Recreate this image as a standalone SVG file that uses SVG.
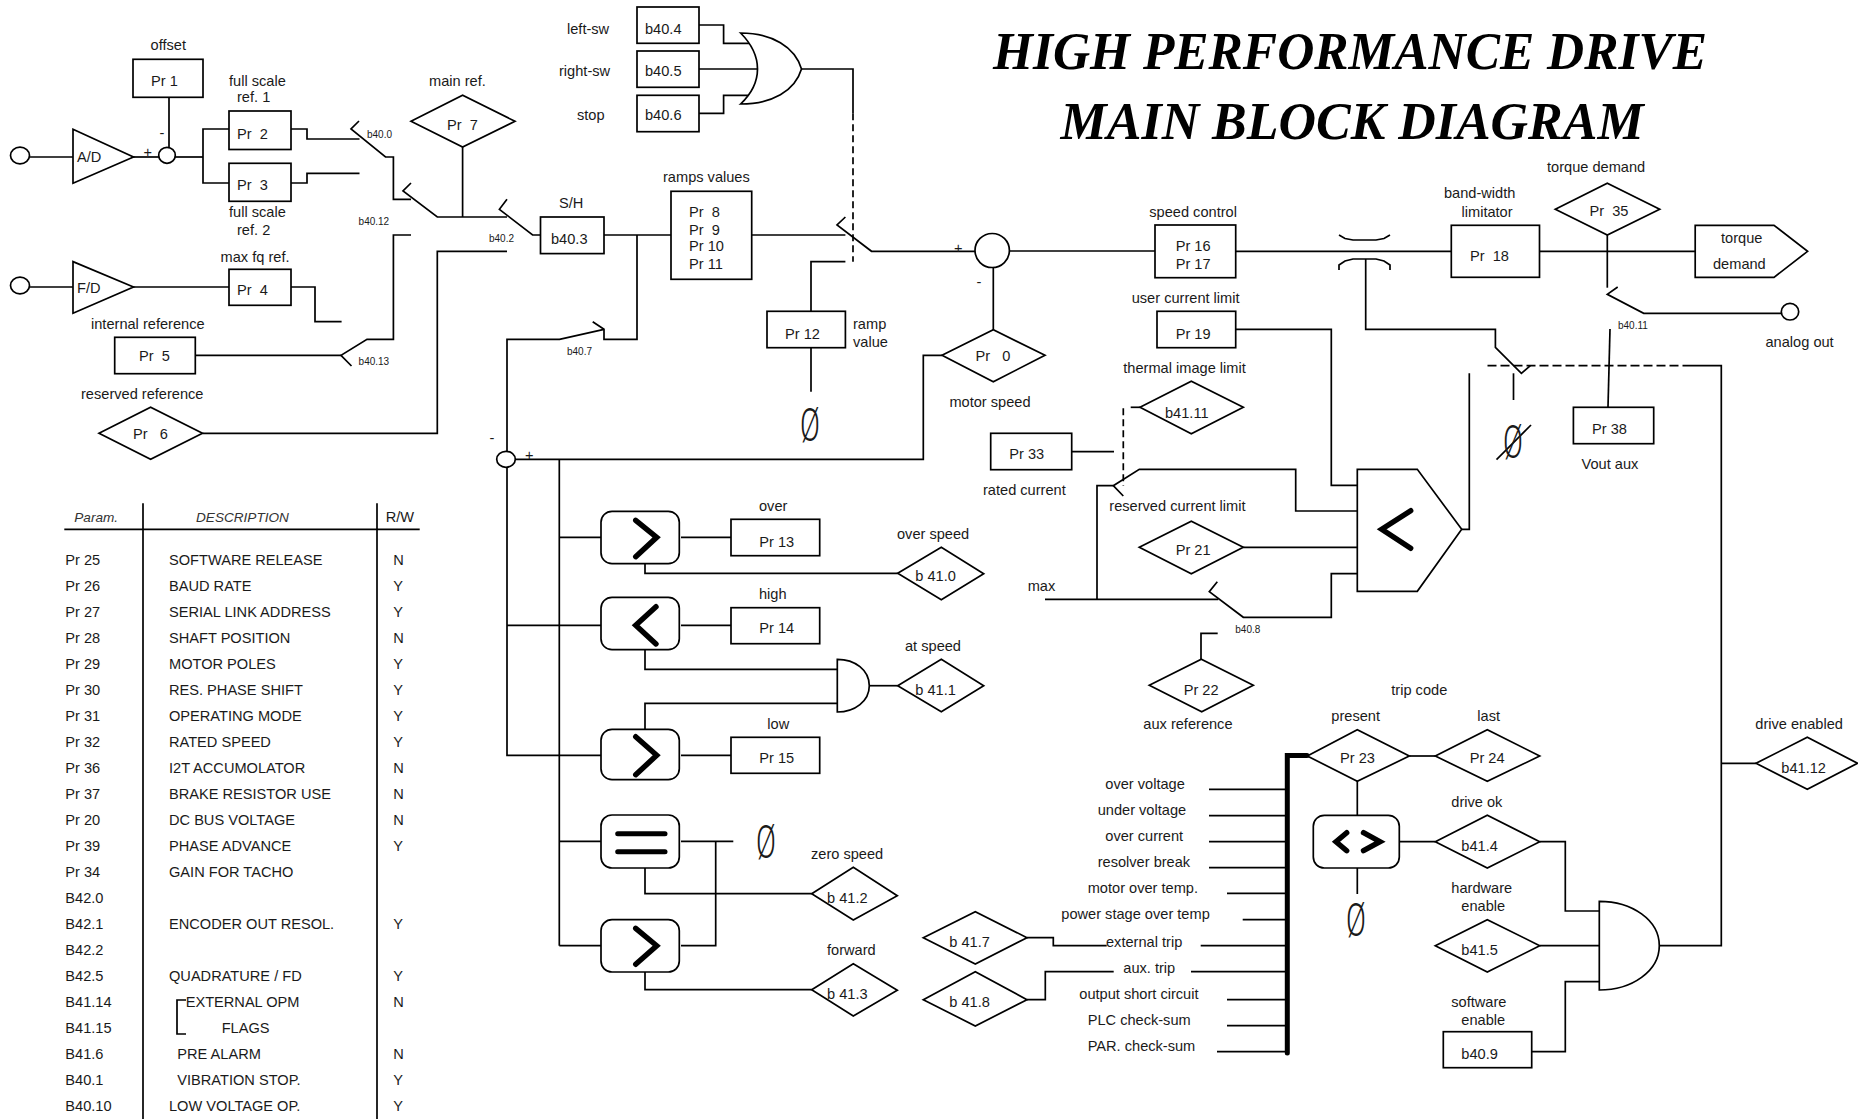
<svg xmlns="http://www.w3.org/2000/svg" width="1858" height="1119" viewBox="0 0 1858 1119">
<style>
text{font-family:"Liberation Sans",Arial,sans-serif;font-size:14.6px;fill:#1a1a1a}
text:not(.z):not(.t){transform:translateY(-0.7px)}
.s{font-size:10px}
.h{font-size:13.6px;font-style:italic;fill:#333}
.t{font-family:"Liberation Serif","Times New Roman",serif;font-size:52px;font-weight:bold;font-style:italic;fill:#000}
.z{font-family:Roboto,sans-serif;font-weight:300;font-size:46px;text-anchor:middle}
rect,polygon,ellipse,.g{fill:#fff;stroke:#000;stroke-width:1.7}
polyline,line,.w{fill:none;stroke:#000;stroke-width:1.7}
.d{stroke-dasharray:7 4}
.e{stroke-dasharray:9 4}
.c{fill:none;stroke:#000;stroke-width:5.4;stroke-linecap:round;stroke-linejoin:miter}
.b{fill:none;stroke:#000;stroke-width:5;stroke-linecap:round}
</style>
<g id="connectors">
<line x1="29" y1="157" x2="73" y2="157"/>
<line x1="133" y1="157" x2="159" y2="157"/>
<line x1="169" y1="95" x2="169" y2="148"/>
<polyline points="175,157 203,157"/>
<polyline points="229,129 203,129 203,183 229,183"/>
<polyline points="289,129 307,129 307,139 359.5,139"/>
<polyline points="289,183 307,183 307,173.3 359.5,173.3"/>
<polyline points="359,121 351,129 385.5,157 393.4,157 393.4,199.3 411,199.3"/>
<polyline points="411,183 403,191 437.3,217 507,217"/>
<polyline points="507,199.3 499.4,209.3 532.6,235 540.5,235"/>
<line x1="462.6" y1="147" x2="462.6" y2="217"/>
<line x1="29" y1="287" x2="73" y2="287"/>
<line x1="133" y1="287" x2="229" y2="287"/>
<polyline points="289,287 315,287 315,321.7 341.6,321.7"/>
<line x1="195" y1="355.3" x2="341" y2="355.3"/>
<polyline points="351.5,366 341,355.3 367,339.3 393.4,339.3 393.4,235 411,235"/>
<polyline points="507,251.3 437.3,251.3 437.3,433.3 202.5,433.3"/>
<polyline points="507,451 507,339.3 559.5,339.3 604,329.3"/>
<polyline points="592.7,321.7 604,329.3 604,339.3 637,339.3 637,235"/>
<line x1="604" y1="235" x2="671" y2="235"/>
<polyline points="697,25 723.6,25 723.6,43.3 756,43.3"/>
<line x1="697" y1="69" x2="760" y2="69"/>
<polyline points="697,113.3 723.6,113.3 723.6,95.3 755,95.3"/>
<polyline points="801.5,69 853,69 853,113.3"/>
<line class="d" x1="853" y1="113.3" x2="853" y2="261.7"/>
<line x1="751" y1="235" x2="845.4" y2="235"/>
<polyline points="845.4,217 837,225 871.5,251.3 975,251.3"/>
<polyline points="845.4,261.7 811,261.7 811,311"/>
<line x1="811" y1="347.7" x2="811" y2="391.7"/>
<line x1="993.3" y1="267" x2="993.3" y2="330"/>
<polyline points="942,355.3 923.3,355.3 923.3,459.3 515,459.3"/>
<line x1="1009.5" y1="251" x2="1155" y2="251"/>
<line x1="1235.7" y1="251.3" x2="1451.3" y2="251.3"/>
<path class="w" d="M1339,235 L1345,238.5 L1353,240 L1376,240 L1384,238.5 L1390,235"/>
<path class="w" d="M1339,270 L1339,265 L1345,261 L1353,259 L1376,259 L1384,261 L1390,265 L1390,270"/>
<polyline points="1365.7,259 1365.7,329.3 1495.4,329.3 1495.4,347.3 1521.4,373.3 1530.4,365.7"/>
<line class="e" x1="1487.5" y1="365.7" x2="1686" y2="365.7"/>
<polyline points="1686,365.7 1721.3,365.7 1721.3,945.7 1659.3,945.7"/>
<line x1="1513.5" y1="373.3" x2="1513.5" y2="400"/>
<line x1="1539.5" y1="251.3" x2="1695.2" y2="251.3"/>
<line x1="1607.3" y1="235" x2="1607.3" y2="287.7"/>
<polyline points="1617.7,287 1607.3,294.3 1643.7,313.3 1782,313.3"/>
<line x1="1610" y1="329" x2="1608" y2="407"/>
<polyline points="1068.7,451.7 1114,451.7"/>
<polyline points="1234.7,329.3 1331.3,329.3 1331.3,485.3 1357.3,485.3"/>
<line x1="1130.7" y1="407.3" x2="1140" y2="407.3"/>
<line class="d" x1="1123.3" y1="408.3" x2="1123.3" y2="485.7"/>
<polyline points="1123.3,496 1113.3,485.7 1139.3,469.3 1295.7,469.3 1295.7,511 1357.3,511"/>
<polyline points="1113.3,485.7 1097,485.7 1097,599.3"/>
<line x1="1045" y1="599.3" x2="1218.3" y2="599.3"/>
<polyline points="1217.3,581.7 1209.3,591.7 1243.3,617.3 1331.3,617.3 1331.3,573.7 1357.3,573.7"/>
<line x1="1243.3" y1="547.3" x2="1357.3" y2="547.3"/>
<polyline points="1461.7,529.3 1469.3,529.3 1469.3,373.3"/>
<polyline points="1217.7,633.3 1201,633.3 1201,659.3"/>
<polyline points="507,467 507,755.3 603,755.3"/>
<line x1="559.3" y1="459.3" x2="559.3" y2="945.7"/>
<line x1="559.3" y1="537.3" x2="603" y2="537.3"/>
<line x1="681" y1="537.3" x2="733" y2="537.3"/>
<polyline points="645,563.7 645,573.3 897.7,573.3"/>
<line x1="507" y1="625.3" x2="603" y2="625.3"/>
<line x1="681" y1="625.3" x2="733" y2="625.3"/>
<polyline points="645,649.7 645,669.3 837.3,669.3"/>
<polyline points="645,729.3 645,703.3 837.3,703.3"/>
<line x1="869.3" y1="685.7" x2="897.7" y2="685.7"/>
<line x1="681" y1="755.3" x2="733" y2="755.3"/>
<line x1="559.3" y1="841.3" x2="603" y2="841.3"/>
<line x1="681" y1="841.3" x2="733.3" y2="841.3"/>
<polyline points="715.7,841.3 715.7,945.7 681,945.7"/>
<polyline points="645,868 645,893.7 811.7,893.7"/>
<line x1="559.3" y1="945.7" x2="603" y2="945.7"/>
<polyline points="645,972 645,989.7 811.7,989.7"/>
<polyline points="1027,937.7 1053.3,937.7 1053.3,945.7 1106.7,945.7"/>
<polyline points="1027,999.7 1045.3,999.7 1045.3,971.7 1113.7,971.7"/>
<path class="b" d="M1287.3,1053 L1287.3,755.5 L1307,755.5"/>
<line x1="1209" y1="789.3" x2="1287" y2="789.3"/>
<line x1="1209" y1="815.7" x2="1287" y2="815.7"/>
<line x1="1209" y1="841.7" x2="1287" y2="841.7"/>
<line x1="1209" y1="867.7" x2="1287" y2="867.7"/>
<line x1="1227" y1="893.3" x2="1287" y2="893.3"/>
<line x1="1242.7" y1="919.7" x2="1287" y2="919.7"/>
<line x1="1200.7" y1="945.7" x2="1287" y2="945.7"/>
<line x1="1191" y1="971.7" x2="1287" y2="971.7"/>
<line x1="1227" y1="999.7" x2="1287" y2="999.7"/>
<line x1="1227" y1="1025.7" x2="1287" y2="1025.7"/>
<line x1="1217" y1="1051.7" x2="1287" y2="1051.7"/>
<line x1="1357.3" y1="781" x2="1357.3" y2="815.3"/>
<line x1="1357.3" y1="868" x2="1357.3" y2="894"/>
<line x1="1409.3" y1="756" x2="1435.3" y2="756"/>
<line x1="1399.3" y1="841.7" x2="1435.3" y2="841.7"/>
<polyline points="1539.7,841.7 1565.3,841.7 1565.3,911 1599.3,911"/>
<line x1="1539.7" y1="945.7" x2="1599.3" y2="945.7"/>
<polyline points="1530,1051.7 1565.3,1051.7 1565.3,981.7 1599.3,981.7"/>
<line x1="1721.3" y1="763.3" x2="1756" y2="763.3"/>
<line x1="1496.5" y1="459.7" x2="1531" y2="425"/>
</g>
<g id="title">
<text class="t" x="993" y="69" textLength="714" lengthAdjust="spacingAndGlyphs">HIGH PERFORMANCE DRIVE</text>
<text class="t" x="1060.6" y="139" textLength="583" lengthAdjust="spacingAndGlyphs">MAIN BLOCK DIAGRAM</text>
</g>
<g id="in-ad"><ellipse cx="20" cy="155.5" rx="9.5" ry="8.3"/></g>
<g id="ad"><polygon points="73,129.3 133.5,157 73,183.3"/><text x="77" y="163">A/D</text></g>
<g id="sum1"><ellipse cx="167" cy="155.3" rx="8.3" ry="8"/><text x="159.5" y="139">-</text><text x="143.5" y="158">+</text></g>
<g id="pr1"><text x="150.6" y="51">offset</text><rect x="133" y="59.3" width="70" height="38"/><text x="151" y="87">Pr 1</text></g>
<g id="pr2"><text x="229" y="87">full scale</text><text x="237" y="103">ref. 1</text><rect x="229" y="111" width="62" height="38.5"/><text x="237" y="139.5" xml:space="preserve">Pr  2</text></g>
<g id="pr3"><rect x="229" y="163.3" width="62" height="38"/><text x="237" y="191" xml:space="preserve">Pr  3</text><text x="229" y="217.7">full scale</text><text x="237" y="235.7">ref. 2</text></g>
<g id="pr7"><text x="429" y="87">main ref.</text><polygon points="411,121.3 462.6,95.3 515,121.3 462.6,147"/><text x="447" y="131" xml:space="preserve">Pr  7</text></g>
<g id="b40-3"><text x="559" y="209">S/H</text><rect x="540.5" y="217" width="63.5" height="36.6"/><text x="551" y="244.3">b40.3</text></g>
<g id="in-fd"><ellipse cx="20" cy="285.5" rx="9.5" ry="8.3"/></g>
<g id="fd"><polygon points="73,261.6 133.5,287 73,313.3"/><text x="77" y="294">F/D</text></g>
<g id="pr4"><text x="220.6" y="262.3">max fq ref.</text><rect x="229" y="269.3" width="62" height="36"/><text x="237" y="296" xml:space="preserve">Pr  4</text></g>
<g id="pr5"><text x="91" y="330">internal reference</text><rect x="114.7" y="337.3" width="80.6" height="36.4"/><text x="139" y="362" xml:space="preserve">Pr  5</text></g>
<g id="pr6"><text x="81" y="400">reserved reference</text><polygon points="99,433.3 150.6,407.3 202.5,433.3 150.6,459.3"/><text x="133" y="440" xml:space="preserve">Pr   6</text></g>
<g id="bits">
<text class="s" x="367" y="138.7">b40.0</text>
<text class="s" x="358.6" y="225.7">b40.12</text>
<text class="s" x="358.6" y="365.7">b40.13</text>
<text class="s" x="489" y="243">b40.2</text>
<text class="s" x="567" y="355.7">b40.7</text>
<text class="s" x="1235.3" y="633.3">b40.8</text>
<text class="s" x="1618" y="330">b40.11</text>
</g>
<g id="sum2"><ellipse cx="506" cy="459.3" rx="9.3" ry="8"/><text x="489.5" y="444">-</text><text x="525" y="461">+</text></g>
<g id="b40-4"><text x="567" y="35">left-sw</text><rect x="637" y="7" width="62" height="36.3"/><text x="645" y="35">b40.4</text></g>
<g id="b40-5"><text x="559" y="77">right-sw</text><rect x="637" y="51" width="62" height="36.3"/><text x="645" y="77">b40.5</text></g>
<g id="b40-6"><text x="577" y="121">stop</text><rect x="637" y="95.3" width="62" height="36.4"/><text x="645" y="121">b40.6</text></g>
<g id="or"><path class="g" d="M740.6,33 C772,33 795,47 801.5,69 C795,91 772,104 740.6,104 Q757.5,88 757.5,69 Q757.5,50 740.6,33 Z"/></g>
<g id="ramps"><text x="663" y="183">ramps values</text><rect x="671" y="191.3" width="80.7" height="88"/><text x="689" y="218" xml:space="preserve">Pr  8</text><text x="689" y="236" xml:space="preserve">Pr  9</text><text x="689" y="252">Pr 10</text><text x="689" y="270">Pr 11</text></g>
<g id="pr12"><rect x="767" y="311.3" width="78.4" height="36.4"/><text x="785" y="340">Pr 12</text><text x="853" y="330">ramp</text><text x="853" y="348">value</text></g>
<text id="zero1" class="z" transform="translate(810,441) scale(0.64,1)">Ø</text>
<g id="sum3"><ellipse cx="992.2" cy="250.5" rx="17.2" ry="17"/><text x="954" y="254">+</text><text x="976.5" y="288">-</text></g>
<g id="pr0"><polygon points="942,355.3 993.3,329.7 1045,355.3 993.3,381.7"/><text x="975.5" y="362" xml:space="preserve">Pr   0</text><text x="949.4" y="408">motor speed</text></g>
<g id="pr16"><text x="1149.3" y="218">speed control</text><rect x="1155" y="225" width="80.7" height="52.7"/><text x="1175.7" y="252">Pr 16</text><text x="1175.7" y="269.3">Pr 17</text></g>
<g id="pr18"><text x="1444" y="198.7">band-width</text><text x="1461.5" y="217.7">limitator</text><rect x="1451.3" y="225.3" width="88.2" height="52"/><text x="1470" y="262" xml:space="preserve">Pr  18</text></g>
<g id="pr35"><text x="1547" y="172.7">torque demand</text><polygon points="1555.3,209.3 1607.3,183.3 1659.7,209.3 1607.3,235"/><text x="1589.5" y="216.7" xml:space="preserve">Pr  35</text></g>
<g id="torque"><polygon points="1695.2,225.3 1774,225.3 1807.6,251.3 1774,277.3 1695.2,277.3"/><text x="1721" y="244">torque</text><text x="1713" y="270">demand</text></g>
<g id="out"><ellipse cx="1790" cy="311.7" rx="8.7" ry="8.3"/><text x="1765.5" y="348">analog out</text></g>
<g id="pr38"><rect x="1573.4" y="407.3" width="80.3" height="36.4"/><text x="1592" y="434.3">Pr 38</text><text x="1581.5" y="470">Vout aux</text></g>
<text id="zero4" class="z" transform="translate(1513,458) scale(0.64,1)">Ø</text>
<g id="pr19"><text x="1131.7" y="304">user current limit</text><rect x="1157" y="311.3" width="78.7" height="36.4"/><text x="1175.7" y="340">Pr 19</text></g>
<g id="b41-11"><text x="1123.3" y="374">thermal image limit</text><polygon points="1140,407.3 1191.3,381.3 1243.3,407.3 1191.3,433.7"/><text x="1165" y="418.3">b41.11</text></g>
<g id="pr33"><rect x="990.7" y="433.3" width="81" height="36.4"/><text x="1009.3" y="460">Pr 33</text><text x="983" y="496">rated current</text></g>
<g id="pr21"><text x="1109.3" y="512">reserved current limit</text><polygon points="1139.3,547.3 1191.3,521.3 1243.3,547.3 1191.3,573.7"/><text x="1175.7" y="556">Pr 21</text></g>
<text x="1027.7" y="591.7">max</text>
<g id="min"><polygon points="1357.3,469.3 1417.3,469.3 1461.7,529.3 1417.3,591.3 1357.3,591.3"/><polyline class="c" points="1410.7,510.7 1381.7,529.3 1410.7,548.3"/></g>
<g id="pr22"><polygon points="1149.3,685.3 1201.3,659.3 1253.3,685.3 1201.7,711.7"/><text x="1183.7" y="696">Pr 22</text><text x="1143.3" y="730">aux reference</text></g>
<g id="cmp1"><rect x="601" y="511.3" width="78.3" height="52.4" rx="11"/><polyline class="c" points="635.7,520.3 656.7,537.3 635.7,556.7"/></g>
<g id="pr13"><text x="759" y="511.7">over</text><rect x="731" y="519.3" width="88.7" height="36.4"/><text x="759.3" y="548">Pr 13</text></g>
<g id="b41-0"><text x="897" y="540">over speed</text><polygon points="897.7,573.3 941.3,547.3 983.7,573.7 941.3,599.7"/><text x="915.3" y="582">b 41.0</text></g>
<g id="cmp2"><rect x="601" y="597.3" width="78.3" height="52.4" rx="11"/><polyline class="c" points="656,606.7 635.7,625.3 656,644"/></g>
<g id="pr14"><text x="759" y="600">high</text><rect x="731" y="607.7" width="88.7" height="36"/><text x="759.3" y="633.7">Pr 14</text></g>
<g id="and1"><path class="g" d="M837.3,659.3 C855,659.3 869.3,670 869.3,685.7 C869.3,701 855,712 837.3,712 Z"/></g>
<g id="b41-1"><text x="905" y="652">at speed</text><polygon points="897.7,685.7 941.3,659.3 983.7,685.7 941.3,711.7"/><text x="915.3" y="696">b 41.1</text></g>
<g id="cmp3"><rect x="601" y="729.3" width="78.3" height="50.4" rx="11"/><polyline class="c" points="635.7,736.7 656.7,755.3 635.7,774.7"/></g>
<g id="pr15"><text x="767.3" y="730">low</text><rect x="731" y="737.3" width="88.7" height="36"/><text x="759.3" y="764">Pr 15</text></g>
<g id="cmp4"><rect x="601" y="815" width="78.3" height="53" rx="11"/><line class="b" x1="617.7" y1="833.7" x2="665" y2="833.7"/><line class="b" x1="617.7" y1="851.7" x2="665" y2="851.7"/></g>
<text id="zero2" class="z" transform="translate(766,858) scale(0.64,1)">Ø</text>
<g id="b41-2"><text x="811" y="860">zero speed</text><polygon points="811.7,893.7 853.3,867.3 897.3,895.7 853.3,920"/><text x="827" y="904">b 41.2</text></g>
<g id="cmp5"><rect x="601" y="919.7" width="78.3" height="52.3" rx="11"/><polyline class="c" points="635.7,928.3 656.7,945.7 635.7,964.3"/></g>
<g id="b41-3"><text x="827" y="956">forward</text><polygon points="811.7,989.7 853.3,963.7 897.3,990.3 853.3,1016"/><text x="827" y="1000">b 41.3</text></g>
<g id="b41-7"><polygon points="923.3,937.7 975.3,911.7 1027,937.7 975.3,964"/><text x="949.3" y="948">b 41.7</text></g>
<g id="b41-8"><polygon points="923.3,999.7 975.3,971.7 1027,999.7 975.3,1026"/><text x="949.3" y="1008">b 41.8</text></g>
<g id="trips">
<text x="1105.3" y="790">over voltage</text>
<text x="1097.7" y="816">under voltage</text>
<text x="1105.3" y="842">over current</text>
<text x="1097.7" y="868">resolver break</text>
<text x="1087.7" y="894">motor over temp.</text>
<text x="1061.3" y="920">power stage over temp</text>
<text x="1106" y="948">external trip</text>
<text x="1123.3" y="974">aux. trip</text>
<text x="1079.3" y="1000">output short circuit</text>
<text x="1087.7" y="1026">PLC check-sum</text>
<text x="1087.7" y="1052">PAR. check-sum</text>
</g>
<text x="1391.3" y="696">trip code</text>
<g id="pr23"><text x="1331.3" y="722">present</text><polygon points="1307.3,756 1357.3,729.7 1409.3,756 1357.3,781.3"/><text x="1340" y="764">Pr 23</text></g>
<g id="pr24"><text x="1477.3" y="722">last</text><polygon points="1435.3,756 1487.3,729.7 1539.7,756 1487.3,781.3"/><text x="1469.7" y="764">Pr 24</text></g>
<g id="cmp6"><rect x="1313.3" y="815.3" width="86" height="52.7" rx="11"/><polyline class="c" points="1346.7,832.7 1336,841.7 1346.7,850.7"/><polyline class="c" points="1363.5,832.7 1380,841.7 1363.5,850.7"/></g>
<text id="zero3" class="z" transform="translate(1356,936) scale(0.64,1)">Ø</text>
<g id="b41-4"><text x="1451.3" y="808">drive ok</text><polygon points="1435.3,841.7 1487.3,815.3 1539.7,841.7 1487.3,868"/><text x="1461.3" y="852">b41.4</text></g>
<g id="b41-5"><text x="1451.3" y="894">hardware</text><text x="1461.3" y="912">enable</text><polygon points="1435.3,945.7 1487.3,919.7 1539.7,945.7 1487.3,972"/><text x="1461.3" y="956">b41.5</text></g>
<g id="b40-9"><text x="1451.3" y="1008">software</text><text x="1461.3" y="1026">enable</text><rect x="1443.3" y="1031.7" width="88.4" height="36"/><text x="1461.3" y="1060">b40.9</text></g>
<g id="and2"><path class="g" d="M1599.3,901.3 C1632,901.3 1659.3,920 1659.3,945.7 C1659.3,971 1632,990 1599.3,990 Z"/></g>
<g id="b41-12"><text x="1755.3" y="730">drive enabled</text><polygon points="1756,763.3 1807.3,737.3 1857.5,763.3 1807.3,789.3"/><text x="1781.3" y="774">b41.12</text></g>
<g id="table">
<line x1="64.3" y1="529.3" x2="419.7" y2="529.3"/>
<line x1="143" y1="503.3" x2="143" y2="1119"/>
<line x1="377" y1="503.3" x2="377" y2="1119"/>
<polyline points="186,1000 177,1000 177,1034 186,1034"/>
<text class="h" x="74.3" y="522.3">Param.</text><text class="h" x="196" y="522.3">DESCRIPTION</text><text x="385.7" y="522.3">R/W</text>
<text x="65.3" y="566">Pr 25</text><text x="169" y="566">SOFTWARE RELEASE</text><text x="393.3" y="566">N</text>
<text x="65.3" y="592">Pr 26</text><text x="169" y="592">BAUD RATE</text><text x="393.3" y="592">Y</text>
<text x="65.3" y="618">Pr 27</text><text x="169" y="618">SERIAL LINK ADDRESS</text><text x="393.3" y="618">Y</text>
<text x="65.3" y="644">Pr 28</text><text x="169" y="644">SHAFT POSITION</text><text x="393.3" y="644">N</text>
<text x="65.3" y="670">Pr 29</text><text x="169" y="670">MOTOR POLES</text><text x="393.3" y="670">Y</text>
<text x="65.3" y="696">Pr 30</text><text x="169" y="696">RES. PHASE SHIFT</text><text x="393.3" y="696">Y</text>
<text x="65.3" y="722">Pr 31</text><text x="169" y="722">OPERATING MODE</text><text x="393.3" y="722">Y</text>
<text x="65.3" y="748">Pr 32</text><text x="169" y="748">RATED SPEED</text><text x="393.3" y="748">Y</text>
<text x="65.3" y="774">Pr 36</text><text x="169" y="774">I2T ACCUMOLATOR</text><text x="393.3" y="774">N</text>
<text x="65.3" y="800">Pr 37</text><text x="169" y="800">BRAKE RESISTOR USE</text><text x="393.3" y="800">N</text>
<text x="65.3" y="826">Pr 20</text><text x="169" y="826">DC BUS VOLTAGE</text><text x="393.3" y="826">N</text>
<text x="65.3" y="852">Pr 39</text><text x="169" y="852">PHASE ADVANCE</text><text x="393.3" y="852">Y</text>
<text x="65.3" y="878">Pr 34</text><text x="169" y="878">GAIN FOR TACHO</text>
<text x="65.3" y="904">B42.0</text>
<text x="65.3" y="930">B42.1</text><text x="169" y="930">ENCODER OUT RESOL.</text><text x="393.3" y="930">Y</text>
<text x="65.3" y="956">B42.2</text>
<text x="65.3" y="982">B42.5</text><text x="169" y="982">QUADRATURE / FD</text><text x="393.3" y="982">Y</text>
<text x="65.3" y="1008">B41.14</text><text x="185.7" y="1008">EXTERNAL OPM</text><text x="393.3" y="1008">N</text>
<text x="65.3" y="1034">B41.15</text><text x="221.7" y="1034">FLAGS</text>
<text x="65.3" y="1060">B41.6</text><text x="177.3" y="1060">PRE ALARM</text><text x="393.3" y="1060">N</text>
<text x="65.3" y="1086">B40.1</text><text x="177.3" y="1086">VIBRATION STOP.</text><text x="393.3" y="1086">Y</text>
<text x="65.3" y="1112">B40.10</text><text x="169" y="1112">LOW VOLTAGE OP.</text><text x="393.3" y="1112">Y</text>
</g>
</svg>
